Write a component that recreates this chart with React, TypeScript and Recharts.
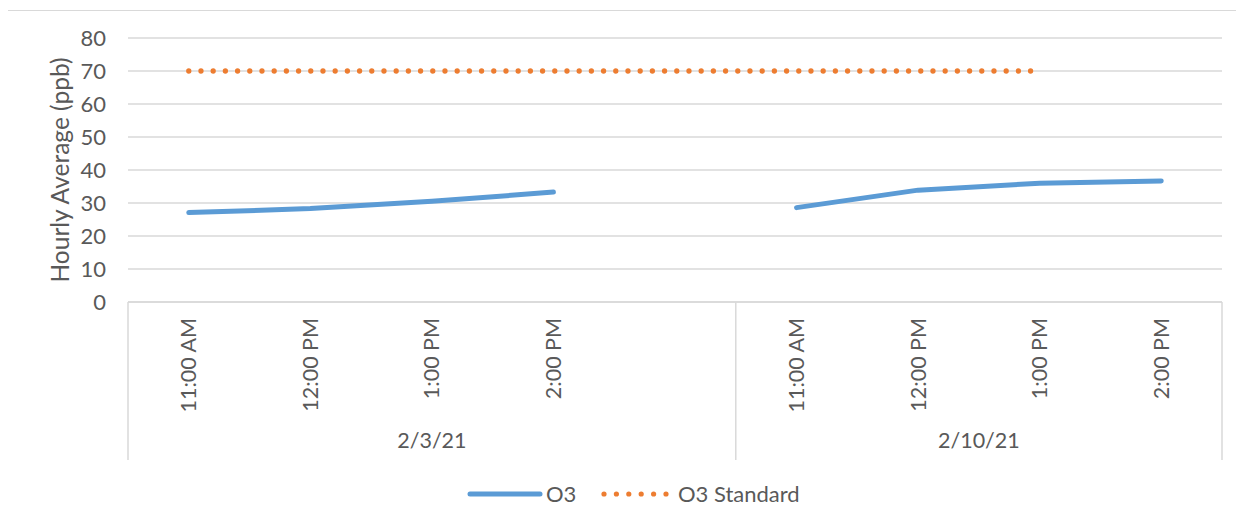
import React from 'react';
import { LineChart, Line, XAxis, YAxis, CartesianGrid, Legend } from 'recharts';

// hourly slots on the category axis (empty slot = spacer row in the sheet)
const times = ['11:00 AM', '12:00 PM', '1:00 PM', '2:00 PM', '', '11:00 AM', '12:00 PM', '1:00 PM', '2:00 PM'];
// date groups with the slot range they cover [start, end)
const dates = ['2/3/21', '2/10/21'];
const dateStarts = [0, 5];
const dateEnds = [5, 9];

const o3 = [27.1, 28.3, 30.5, 33.3, null, 28.6, 33.9, 36.0, 36.7];
const o3Standard = [70, 70, 70, 70, 70, 70, 70, 70, null];

const yTicks = [0, 10, 20, 30, 40, 50, 60, 70, 80];

const BLUE = '#5b9bd5';
const ORANGE = '#ed7d31';
const GRID = '#d9d9d9';
const TEXT = '#595959';
const FONT = "Lato, 'Open Sans', sans-serif";

const TIME_AXIS = 0;
const DATE_AXIS = 1;
const TIME_AXIS_H = 100;
const DATE_AXIS_H = 58;

const data = times.map((t, i) => ({
    slot: i + 0.5,
    time: t,
    o3: o3[i],
    std: o3Standard[i],
}));

const timeTicks = data.filter((d) => d.time !== '').map((d) => d.slot);
const dateTicks = [
    ...dateStarts,
    dateEnds[dateEnds.length - 1],
    ...dates.map((_, i) => (dateStarts[i] + dateEnds[i]) / 2),
];

const TimeTick = (props: any) => {
    const { x, y, payload } = props;
    const row = data.find((d) => d.slot === payload.value);
    return (
        <text
            transform={`translate(${x},${y + 16}) rotate(-90)`}
            textAnchor="end"
            dy="0.35em"
            fill={TEXT}
            fontSize={21.5}
            fontFamily={FONT}
        >
            {row ? row.time : ''}
        </text>
    );
};

const DateTick = (props: any) => {
    const { x, y, payload } = props;
    const v = payload.value;
    const idx = dates.findIndex((_, i) => (dateStarts[i] + dateEnds[i]) / 2 === v);
    if (idx >= 0) {
        return (
            <text x={x} y={y + 38} dy="0.35em" textAnchor="middle" fill={TEXT} fontSize={21.5} fontFamily={FONT}>
                {dates[idx]}
            </text>
        );
    }
    // group boundary line through both axis rows
    return <line x1={x} x2={x} y1={y - TIME_AXIS_H} y2={y + DATE_AXIS_H} stroke={GRID} strokeWidth={1.5} />;
};

const YLabel = (props: any) => {
    const { viewBox } = props;
    const cx = viewBox.x + 32;
    const cy = viewBox.y + viewBox.height / 2;
    return (
        <text
            transform={`translate(${cx},${cy}) rotate(-90)`}
            textAnchor="middle"
            dy="0.35em"
            fill={TEXT}
            fontSize={24.5}
            fontFamily={FONT}
        >
            Hourly Average (ppb)
        </text>
    );
};

const LegendContent = (props: any) => {
    const { payload } = props;
    return (
        <div
            style={{
                height: 67,
                display: 'flex',
                alignItems: 'center',
                paddingLeft: 439,
                fontFamily: FONT,
                fontSize: 22,
                color: TEXT,
            }}
        >
            {(payload || []).map((entry: any) => {
                const dotted = entry.dataKey === 'std';
                return (
                    <div
                        key={entry.value}
                        style={{ display: 'flex', alignItems: 'center', width: dotted ? 200 : 134 }}
                    >
                        <svg width={dotted ? 72 : 76} height={10} style={{ marginRight: dotted ? 5 : 3 }}>
                            <line
                                x1={3}
                                x2={dotted ? 68 : 73}
                                y1={5}
                                y2={5}
                                stroke={entry.color}
                                strokeWidth={dotted ? 5.2 : 5}
                                strokeLinecap="round"
                                strokeDasharray={dotted ? '0 12.4' : undefined}
                            />
                        </svg>
                        <span>{entry.value}</span>
                    </div>
                );
            })}
        </div>
    );
};

const App: React.FC = () => {
    return (
        <div
            style={{
                width: 1232,
                height: 516,
                borderTop: `1px solid ${GRID}`,
                borderLeft: `1px solid ${GRID}`,
                marginLeft: -1,
                marginTop: 2,
                background: '#fff',
            }}
        >
            <LineChart width={1232} height={516} data={data} margin={{ top: 27, right: 18, left: 20, bottom: 0 }}>
                <CartesianGrid xAxisId={TIME_AXIS} vertical={false} stroke={GRID} strokeWidth={1.5} />
                <XAxis
                    xAxisId={TIME_AXIS}
                    dataKey="slot"
                    type="number"
                    domain={[0, 9]}
                    ticks={timeTicks}
                    interval={0}
                    tick={<TimeTick />}
                    tickLine={false}
                    tickSize={0}
                    tickMargin={0}
                    axisLine={{ stroke: GRID, strokeWidth: 1.5 }}
                    height={TIME_AXIS_H}
                />
                <XAxis
                    xAxisId={DATE_AXIS}
                    dataKey="slot"
                    type="number"
                    domain={[0, 9]}
                    ticks={dateTicks}
                    interval={0}
                    tick={<DateTick />}
                    tickLine={false}
                    tickSize={0}
                    tickMargin={0}
                    axisLine={false}
                    height={DATE_AXIS_H}
                />
                <YAxis
                    domain={[0, 80]}
                    ticks={yTicks}
                    interval={0}
                    width={100}
                    axisLine={false}
                    tickLine={false}
                    tickSize={0}
                    tickMargin={22}
                    tick={{ fill: TEXT, fontSize: 22, fontFamily: FONT }}
                    label={<YLabel />}
                />
                <Line
                    xAxisId={TIME_AXIS}
                    dataKey="o3"
                    name="O3"
                    stroke={BLUE}
                    strokeWidth={5}
                    strokeLinecap="round"
                    strokeLinejoin="round"
                    dot={false}
                    activeDot={false}
                    connectNulls={false}
                    isAnimationActive={false}
                />
                <Line
                    xAxisId={TIME_AXIS}
                    dataKey="std"
                    name="O3 Standard"
                    stroke={ORANGE}
                    strokeWidth={5.3}
                    strokeLinecap="round"
                    strokeDasharray="0 12.2"
                    dot={false}
                    activeDot={false}
                    connectNulls={false}
                    isAnimationActive={false}
                />
                <Legend verticalAlign="bottom" content={<LegendContent />} />
            </LineChart>
        </div>
    );
};

export default App;
